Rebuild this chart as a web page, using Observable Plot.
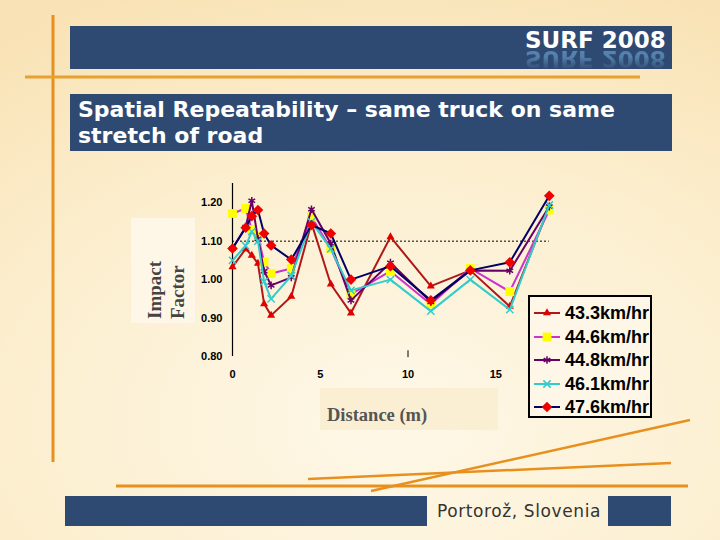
<!DOCTYPE html>
<html><head><meta charset="utf-8">
<script src="https://cdn.jsdelivr.net/npm/d3@7"></script>
<script src="https://cdn.jsdelivr.net/npm/@observablehq/plot@0.6"></script>
<style>
html,body{margin:0;padding:0;background:#fff;}
#slide{position:relative;width:720px;height:540px;overflow:hidden;
 background:radial-gradient(ellipse 95% 85% at 55% 78%, #FEF8E8 0%, #FCEFD0 55%, #F9E3B6 100%);
 font-family:"Liberation Sans",Arial,sans-serif;}
.abs{position:absolute;}
.navy{background:#2F4A72;}
#surf{left:455px;top:1px;font:bold 23px "DejaVu Sans",sans-serif;color:#fff;line-height:27px;}
#surfr{left:455px;top:19px;font:bold 23px "DejaVu Sans",sans-serif;color:#5A88B5;line-height:27px;transform:scaleY(-1);
 -webkit-mask-image:linear-gradient(to top, rgba(0,0,0,1) 0%, rgba(0,0,0,0.85) 45%, rgba(0,0,0,0.2) 80%);}
#title{left:78px;top:97px;font:bold 22px "DejaVu Sans",sans-serif;color:#fff;line-height:26px;white-space:nowrap;}
#foot{left:437px;top:501px;font:17px "DejaVu Sans",sans-serif;color:#333;letter-spacing:0.6px;}
.ylab{font:bold 19px "Liberation Serif","Times New Roman",serif;color:#444;white-space:nowrap;transform-origin:0 0;transform:rotate(-90deg);}
#legend{left:528px;top:295px;width:120px;height:119px;border:2px solid #000;background:#FEF6E6;}
.lrow{position:absolute;left:3px;height:22px;display:flex;align-items:center;font:bold 18px "Liberation Sans",Arial,sans-serif;color:#000;}
.lrow svg{margin-right:4px;}
</style></head><body>
<div id="slide">
 <svg class="abs" style="left:0;top:0" width="720" height="540">
  <line x1="53" y1="15" x2="53" y2="462" stroke="#E8901E" stroke-width="3"/>
  <line x1="25" y1="77" x2="640" y2="77" stroke="#E8A030" stroke-width="3"/>
  <line x1="116" y1="486" x2="688" y2="486" stroke="#E8901E" stroke-width="3"/>
  <line x1="308" y1="479" x2="671" y2="463" stroke="#E8901E" stroke-width="2.5"/>
  <line x1="371" y1="491" x2="690" y2="420" stroke="#E8901E" stroke-width="2.5"/>
 </svg>
 <div class="abs navy" style="left:70px;top:26px;width:602px;height:43px;overflow:hidden;">
  <div class="abs" id="surfr">SURF 2008</div>
  <div class="abs" id="surf">SURF 2008</div>
 </div>
 <div class="abs navy" style="left:70px;top:94px;width:602px;height:57px;"></div>
 <div class="abs" id="title">Spatial Repeatability – same truck on same<br>stretch of road</div>
 <div class="abs navy" style="left:65px;top:496px;width:362px;height:30px;"></div>
 <div class="abs navy" style="left:608px;top:496px;width:63px;height:30px;"></div>
 <div class="abs" id="foot">Portorož, Slovenia</div>
 <div class="abs" style="left:131px;top:218px;width:64px;height:105px;background:#FEF7E8;"></div>
 <div class="abs ylab" style="left:144px;top:319px;">Impact</div>
 <div class="abs ylab" style="left:167px;top:319px;">Factor</div>
 <div class="abs" style="left:320px;top:388px;width:178px;height:42px;background:#FBEFD3;"></div>
 <div class="abs" style="left:327px;top:405px;font:bold 18.5px 'Liberation Serif','Times New Roman',serif;color:#555;">Distance (m)</div>
 <div id="chart" class="abs" style="left:0;top:0;"></div>
 <div id="legend" class="abs"></div>
</div>
<script>
const distances = [0, 0.75, 1.1, 1.45, 1.8, 2.2, 3.35, 4.5, 5.6, 6.75, 9.0, 11.3, 13.55, 15.8, 18.05];
const seriesNames = ["43.3km/hr", "44.6km/hr", "44.8km/hr", "46.1km/hr", "47.6km/hr"];
const v43_3 = [1.033, 1.080, 1.063, 1.042, 0.937, 0.907, 0.956, 1.147, 0.988, 0.913, 1.111, 0.983, 1.024, 0.930, 1.190];
const v44_6 = [1.172, 1.185, 1.130, 1.113, 1.046, 1.016, 1.029, 1.163, 1.081, 0.962, 1.022, 0.936, 1.029, 0.969, 1.181];
const v44_8 = [1.081, 1.137, 1.205, 1.106, 1.022, 0.985, 1.006, 1.183, 1.094, 0.946, 1.044, 0.942, 1.024, 1.023, 1.190];
const v46_1 = [1.050, 1.088, 1.125, 1.100, 0.995, 0.950, 1.010, 1.150, 1.080, 0.972, 1.000, 0.918, 1.000, 0.922, 1.194];
const v47_6 = [1.081, 1.135, 1.165, 1.181, 1.120, 1.089, 1.052, 1.142, 1.120, 1.000, 1.035, 0.946, 1.024, 1.045, 1.218];
const yTicks = [0.80, 0.90, 1.00, 1.10, 1.20];
const xTicks = [0, 5, 10, 15];
const refLine = 1.10;

const seriesValues = [v43_3, v44_6, v44_8, v46_1, v47_6];
const lineColors = ["#B01818", "#CC33CC", "#660066", "#33CCCC", "#000066"];
const symbols = ["triangle", "square", "asterisk", "times", "diamond2"];
const markFill = ["#E00000", "#FFFF00", null, null, "#F00000"];
const markStroke = [null, null, "#660066", "#33CCCC", null];
const markR = [3, 5, 3.6, 3.4, 4.8];

const rows = [];
seriesNames.forEach((name, i) => distances.forEach((d, j) => rows.push({series: name, idx: i, x: d, y: seriesValues[i][j]})));

const marks = [
  Plot.ruleY([refLine], {x1: 0, x2: distances[distances.length - 1], stroke: "#000", strokeWidth: 1, strokeDasharray: "2,2"}),
  Plot.ruleX([0], {y1: 0.8, y2: 1.25, stroke: "#000", strokeWidth: 1.2}),
  Plot.ruleX([10], {y1: 0.797, y2: 0.815, stroke: "#000", strokeWidth: 1})
];
seriesNames.forEach((name, i) => {
  const data = rows.filter(r => r.idx === i);
  marks.push(Plot.line(data, {x: "x", y: "y", stroke: lineColors[i], strokeWidth: 2}));
  const opts = {x: "x", y: "y", symbol: () => symbols[i], r: markR[i]};
  if (markFill[i]) { opts.fill = markFill[i]; } else { opts.stroke = markStroke[i]; opts.strokeWidth = 1.5; opts.fill = "none"; }
  marks.push(Plot.dot(data, opts));
});

const chart = Plot.plot({
  width: 720, height: 540,
  marginLeft: 232, marginRight: 137, marginTop: 183, marginBottom: 184,
  x: {domain: [0, 20], ticks: xTicks, tickSize: 0, tickPadding: 14, label: null, tickFormat: d => String(d)},
  y: {domain: [0.8, 1.25], ticks: yTicks, tickSize: 0, tickPadding: 10, label: null, tickFormat: d => d.toFixed(2)},
  symbol: {type: "identity"},
  style: {background: "transparent", fontFamily: "'Liberation Sans', Arial, sans-serif", fontSize: "11px", fontWeight: "bold", color: "#000", overflow: "visible"},
  marks
});
document.getElementById("chart").appendChild(chart);

// legend
const leg = document.getElementById("legend");
const rowTops = [5, 29, 52, 76, 99];
seriesNames.forEach((name, i) => {
  const div = document.createElement("div");
  div.className = "lrow";
  div.style.top = rowTops[i] + "px";
  const s = d3.create("svg").attr("width", 28).attr("height", 14);
  s.append("line").attr("x1", 1).attr("x2", 27).attr("y1", 7).attr("y2", 7).attr("stroke", lineColors[i]).attr("stroke-width", 2);
  const sym = {triangle: d3.symbolTriangle, square: d3.symbolSquare, asterisk: d3.symbolAsterisk, times: d3.symbolTimes, diamond2: d3.symbolDiamond2}[symbols[i]];
  const p = s.append("path").attr("transform", "translate(14,7)").attr("d", d3.symbol(sym, Math.PI * markR[i] * markR[i])());
  if (markFill[i]) p.attr("fill", markFill[i]); else p.attr("fill", "none").attr("stroke", markStroke[i]).attr("stroke-width", 1.5);
  div.appendChild(s.node());
  const t = document.createElement("span"); t.textContent = name; div.appendChild(t);
  leg.appendChild(div);
});
</script>
</body></html>
